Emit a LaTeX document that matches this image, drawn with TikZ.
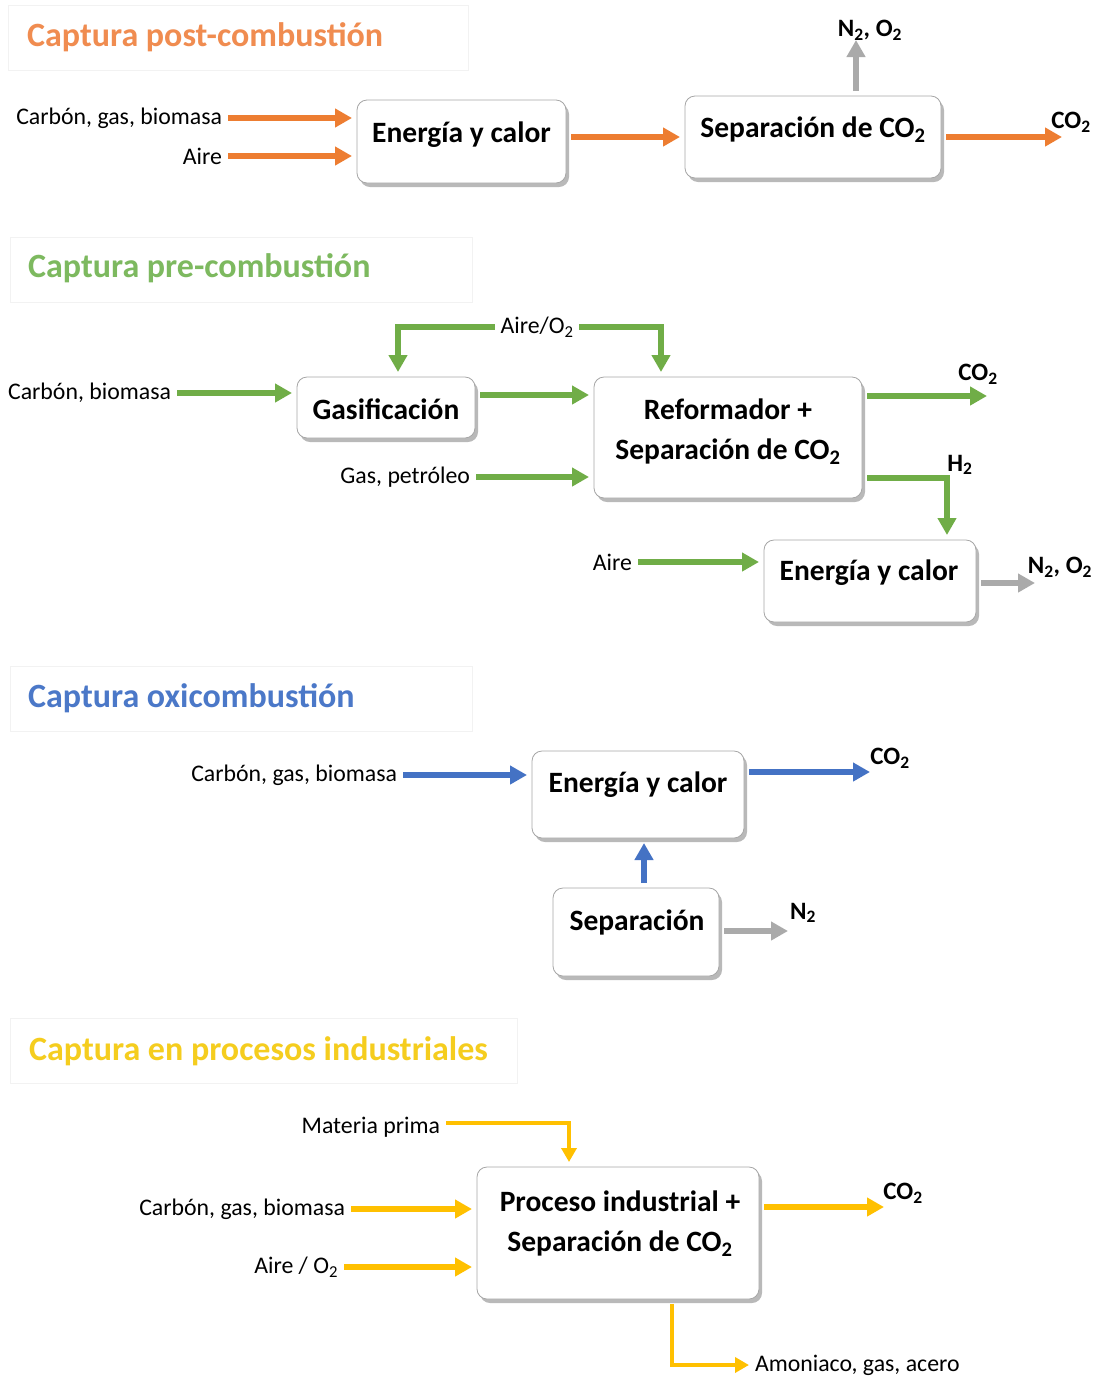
\documentclass[tikz,border=0pt]{standalone}
\usepackage{fontspec}
\setmainfont{Carlito}
\usetikzlibrary{arrows.meta,shadows,calc}

\definecolor{cOrange}{RGB}{237,125,49}
\definecolor{cGreen}{RGB}{112,173,71}
\definecolor{cBlue}{RGB}{68,114,196}
\definecolor{cGold}{RGB}{255,192,0}
\definecolor{cGray}{RGB}{170,170,170}
\definecolor{tOrange}{RGB}{240,140,80}
\definecolor{tGreen}{RGB}{125,185,95}
\definecolor{tBlue}{RGB}{75,120,200}
\definecolor{tGold}{RGB}{245,205,30}

\newcommand{\two}{\textsubscript{2}}

\tikzset{
  box/.style={draw=black!35, line width=0.8pt, fill=white, rounded corners=10pt,
    drop shadow={shadow xshift=3pt, shadow yshift=-4pt, fill=black!50, opacity=0.55},
    outer sep=5pt, inner sep=0pt},
  btext/.style={font=\bfseries\fontsize{29.5}{40}\selectfont, align=center, inner sep=0pt},
  lab/.style={font=\fontsize{23.8}{28}\selectfont, inner sep=0pt, outer sep=6pt},
  prod/.style={font=\bfseries\fontsize{25}{29}\selectfont, inner sep=0pt},
  ttlbox/.style={draw=black!5, fill=white, line width=0.8pt, minimum height=65pt,
    anchor=west, inner sep=0pt},
  ttltext/.style={anchor=west, inner sep=0pt, font=\bfseries\fontsize{34}{40}\selectfont},
  flow/.style={line width=6.5pt, -{Triangle[width=18pt,length=17pt]}},
  thinflow/.style={line width=4.5pt, -{Triangle[width=15pt,length=14pt]}},
}

\begin{document}
\begin{tikzpicture}[x=1pt,y=-1pt]
\useasboundingbox (0,0) rectangle (1100,1377);

% ---------------- Post-combustion ----------------
\node[ttlbox, minimum width=460pt] (t1) at (8,37.5) {};
\node[ttltext, text=tOrange] (t1t) at (27,37) {Captura post-combustión};

\node[box, minimum width=209pt, minimum height=83pt] (e1) at (461.5,141.5) {};
\node[btext] (e1t) at (461.5,135) {Energía y calor};
\node[box, minimum width=256pt, minimum height=82pt] (s1) at (813,137) {};
\node[btext] (s1t) at (813,130) {Separación de CO\two};

\node[lab, anchor=east] (l1a) at (228,118) {Carbón, gas, biomasa};
\node[lab, anchor=east] (l1b) at (228,156) {Aire};
\node[prod] (co1) at (1071,122) {CO\two};
\node[prod] (n1) at (870,30) {N\two, O\two};
\coordinate (c1) at (1062,137);
\coordinate (n1c) at (856,40);

\draw[flow, cOrange] (l1a.east) -- (l1a.east -| e1.west);
\draw[flow, cOrange] (l1b.east) -- (l1b.east -| e1.west);
\draw[flow, cOrange] (s1.west -| e1.east) -- (s1.west);
\draw[flow, cOrange] (s1.east |- c1) -- (c1);
\draw[flow, cGray] (s1.north -| n1c) -- (n1c);

% ---------------- Pre-combustion ----------------
\node[ttlbox, minimum width=462pt] (t2) at (10,269.5) {};
\node[ttltext, text=tGreen] (t2t) at (28,268) {Captura pre-combustión};

\node[box, minimum width=178pt, minimum height=61pt] (gas) at (386,407.5) {};
\node[btext] (gast) at (386,409) {Gasificación};
\node[box, minimum width=268pt, minimum height=121pt] (ref) at (728,437.5) {};
\node[btext] (reft) at (728,432) {Reformador +\\Separación de CO\two};
\node[box, minimum width=212pt, minimum height=82pt] (e2) at (870,581) {};
\node[btext] (e2t) at (869,573) {Energía y calor};

\node[lab, anchor=east] (l2a) at (177,393) {Carbón, biomasa};
\node[lab] (l2b) at (537,327) {Aire/O\two};
\node[lab, anchor=east] (l2c) at (476,477) {Gas, petróleo};
\node[lab, anchor=east] (l2d) at (638,562) {Aire};
\node[prod] (co2b) at (978,374) {CO\two};
\node[prod] (h2) at (960,465) {H\two};
\node[prod] (n2) at (1060,567) {N\two, O\two};
\coordinate (c2) at (987,396);
\coordinate (h2c) at (947,478);
\coordinate (n2c) at (1035,583);

\draw[flow, cGreen] (l2a.east) -- (l2a.east -| gas.west);
\draw[flow, cGreen] (l2b.west) -| ([xshift=12pt]gas.north);
\draw[flow, cGreen] (l2b.east) -| ([xshift=-67pt]ref.north);
\draw[flow, cGreen] ([yshift=12.5pt]gas.east) -- ([yshift=12.5pt]gas.east -| ref.west);
\draw[flow, cGreen] (l2c.east) -- (l2c.east -| ref.west);
\draw[flow, cGreen] (ref.east |- c2) -- (c2);
\draw[flow, cGreen] (ref.east |- h2c) -| (h2c |- e2.north);
\draw[flow, cGreen] (l2d.east) -- (l2d.east -| e2.west);
\draw[flow, cGray] (e2.east |- n2c) -- (n2c);

% ---------------- Oxy-combustion ----------------
\node[ttlbox, minimum width=462pt] (t3) at (10,698.5) {};
\node[ttltext, text=tBlue] (t3t) at (28,698) {Captura oxicombustión};

\node[box, minimum width=212pt, minimum height=87pt] (e3) at (638,794.5) {};
\node[btext] (e3t) at (638,785) {Energía y calor};
\node[box, minimum width=166pt, minimum height=88pt] (sep) at (636,932) {};
\node[btext] (sept) at (637,922) {Separación};

\node[lab, anchor=east] (l3) at (403,775) {Carbón, gas, biomasa};
\node[prod] (co3) at (890,758) {CO\two};
\node[prod] (n3) at (803,913) {N\two};
\coordinate (c3) at (870,772);
\coordinate (u3) at (644,900);
\coordinate (n3c) at (788,931);

\draw[flow, cBlue] (l3.east) -- (l3.east -| e3.west);
\draw[flow, cBlue] (e3.east |- c3) -- (c3);
\draw[flow, cBlue] (sep.north -| u3) -- (e3.south -| u3);
\draw[flow, cGray] (sep.east |- n3c) -- (n3c);

% ---------------- Industrial processes ----------------
\node[ttlbox, minimum width=507pt] (t4) at (10,1050.5) {};
\node[ttltext, text=tGold] (t4t) at (29,1051) {Captura en procesos industriales};

\node[box, minimum width=282pt, minimum height=132pt] (pro) at (618,1233) {};
\node[btext] (prot) at (620,1223.5) {Proceso industrial +\\Separación de CO\two};

\node[lab, anchor=east] (l4a) at (446,1127) {Materia prima};
\node[lab, anchor=east] (l4b) at (351,1209) {Carbón, gas, biomasa};
\node[lab, anchor=east] (l4c) at (344,1267) {Aire / O\two};
\node[prod] (co4) at (903,1193) {CO\two};
\node[lab, anchor=west] (l4d) at (749,1365) {Amoniaco, gas, acero};
\coordinate (m4) at (569,1123);
\coordinate (c4) at (884,1207);
\coordinate (b4) at (672,1365);

\draw[thinflow, cGold] ([yshift=4pt]l4a.east) -| (m4 |- pro.north);
\draw[flow, cGold] (l4b.east) -- (l4b.east -| pro.west);
\draw[flow, cGold] (l4c.east) -- (l4c.east -| pro.west);
\draw[flow, cGold] (pro.east |- c4) -- (c4);
\draw[thinflow, cGold] (pro.south -| b4) |- (l4d.west);
\end{tikzpicture}
\end{document}
